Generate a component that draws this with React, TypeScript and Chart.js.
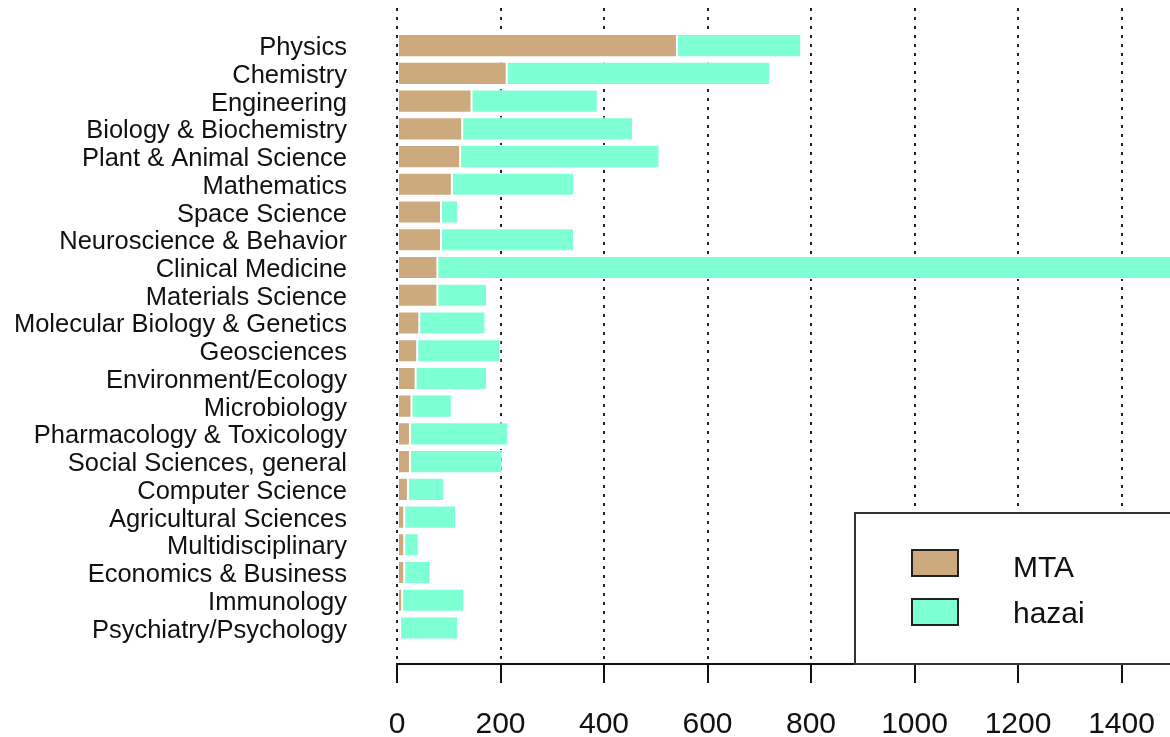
import { useEffect, useRef } from "react";
import { Chart, registerables } from "chart.js";

Chart.register(...registerables);

const categories = [
  "Physics",
  "Chemistry",
  "Engineering",
  "Biology & Biochemistry",
  "Plant & Animal Science",
  "Mathematics",
  "Space Science",
  "Neuroscience & Behavior",
  "Clinical Medicine",
  "Materials Science",
  "Molecular Biology & Genetics",
  "Geosciences",
  "Environment/Ecology",
  "Microbiology",
  "Pharmacology & Toxicology",
  "Social Sciences, general",
  "Computer Science",
  "Agricultural Sciences",
  "Multidisciplinary",
  "Economics & Business",
  "Immunology",
  "Psychiatry/Psychology",
];

const mtaValues = [541, 212, 144, 126, 122, 106, 85, 85, 78, 78, 43, 39, 36, 28, 25, 25, 21, 14, 14, 14, 10, 6];
const hazaiValues = [240, 509, 244, 330, 385, 236, 33, 257, 1450, 96, 128, 161, 138, 78, 190, 179, 70, 100, 28, 51, 120, 112];

const xTickValues = [0, 200, 400, 600, 800, 1000, 1200, 1400];
const seriesNames = ["MTA", "hazai"];
const seriesColors = ["#CDAA7D", "#7FFFD4"];

const FONT = "'Liberation Sans', Arial, Helvetica, sans-serif";

const legendPlugin = {
  id: "rStyleLegend",
  afterDraw(chart: any) {
    const ctx = chart.ctx as CanvasRenderingContext2D;
    ctx.save();
    ctx.fillStyle = "#ffffff";
    ctx.fillRect(855, 513, 400, 151);
    ctx.lineWidth = 2;
    ctx.strokeStyle = "#333333";
    ctx.strokeRect(855, 513, 400, 151);
    const swatchTops = [550, 599];
    const baselines = [576.5, 622.5];
    ctx.font = `30px ${FONT}`;
    ctx.textAlign = "left";
    ctx.textBaseline = "alphabetic";
    seriesNames.forEach((name, i) => {
      ctx.fillStyle = seriesColors[i];
      ctx.fillRect(912, swatchTops[i], 46, 26);
      ctx.lineWidth = 2;
      ctx.strokeStyle = "#222222";
      ctx.strokeRect(912, swatchTops[i], 46, 26);
      ctx.fillStyle = "#111111";
      ctx.fillText(name, 1013, baselines[i]);
    });
    ctx.restore();
  },
};

export default function App() {
  const canvasRef = useRef<HTMLCanvasElement | null>(null);

  useEffect(() => {
    if (!canvasRef.current) return;
    const chart = new Chart(canvasRef.current, {
      type: "bar",
      data: {
        datasets: [
          {
            label: seriesNames[0],
            data: mtaValues.map((v, i) => ({ x: v, y: i })),
            backgroundColor: seriesColors[0],
            borderColor: "#ffffff",
            borderWidth: 1,
            borderSkipped: false,
            barPercentage: 0.833,
            categoryPercentage: 1,
          },
          {
            label: seriesNames[1],
            data: hazaiValues.map((v, i) => ({ x: v, y: i })),
            backgroundColor: seriesColors[1],
            borderColor: "#ffffff",
            borderWidth: 1,
            borderSkipped: false,
            barPercentage: 0.833,
            categoryPercentage: 1,
          },
        ],
      } as any,
      options: {
        indexAxis: "y",
        animation: false,
        responsive: true,
        maintainAspectRatio: false,
        layout: { padding: { top: 8, left: 0, right: 0, bottom: 0 } },
        plugins: {
          legend: { display: false },
          tooltip: { enabled: false },
        },
        scales: {
          y: {
            type: "linear",
            reverse: true,
            min: -0.82,
            max: 21.76,
            stacked: true,
            afterBuildTicks: (s: any) => {
              s.ticks = categories.map((_, i) => ({ value: i }));
            },
            afterFit: (s: any) => {
              s.width = 397;
              s.paddingTop = 0;
              s.paddingBottom = 0;
            },
            ticks: {
              autoSkip: false,
              padding: 42,
              labelOffset: 2.5,
              color: "#111111",
              font: { size: 25.5, family: FONT },
              callback: (v: any) => categories[v as number] ?? "",
            },
            grid: { display: false },
            border: { display: false },
          },
          x: {
            type: "linear",
            min: 0,
            max: 1493.7,
            stacked: true,
            afterBuildTicks: (s: any) => {
              s.ticks = xTickValues.map((v) => ({ value: v }));
            },
            afterFit: (s: any) => {
              s.height = 73;
              s.paddingLeft = 0;
              s.paddingRight = 0;
            },
            ticks: {
              autoSkip: false,
              maxRotation: 0,
              padding: 24,
              color: "#111111",
              font: { size: 30, family: FONT },
              callback: (v: any) => String(v),
            },
            grid: {
              display: true,
              color: "#222222",
              lineWidth: 2,
              drawTicks: true,
              tickLength: 19,
              tickColor: "#111111",
              tickWidth: 2,
              tickBorderDash: [],
            } as any,
            border: { display: true, color: "#111111", width: 2, dash: [3, 6] } as any,
          },
        },
      } as any,
      plugins: [legendPlugin],
    });
    return () => chart.destroy();
  }, []);

  return (
    <div style={{ position: "fixed", left: 0, top: 0, width: 1170, height: 737, background: "#fff" }}>
      <canvas ref={canvasRef} />
    </div>
  );
}
